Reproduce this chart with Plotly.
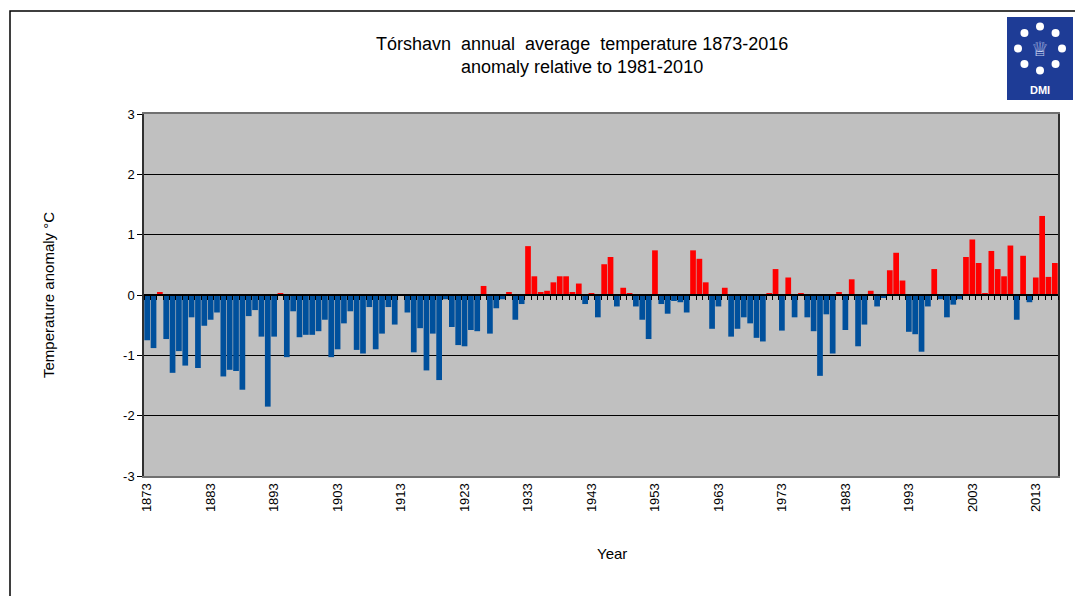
import math
import plotly.graph_objects as go

years = list(range(1873, 2017))
anomaly = [
    -0.75, -0.88, 0.05, -0.73, -1.29, -0.93, -1.17, -0.37, -1.21, -0.51,
    -0.41, -0.29, -1.35, -1.24, -1.26, -1.57, -0.35, -0.25, -0.69, -1.85,
    -0.69, 0.03, -1.03, -0.27, -0.70, -0.66, -0.66, -0.60, -0.41, -1.03,
    -0.90, -0.47, -0.27, -0.91, -0.97, -0.20, -0.90, -0.64, -0.20, -0.49,
    -0.01, -0.29, -0.95, -0.55, -1.25, -0.64, -1.41, -0.07, -0.53, -0.83,
    -0.85, -0.58, -0.60, 0.15, -0.64, -0.22, -0.07, 0.05, -0.41, -0.15,
    0.81, 0.31, 0.05, 0.07, 0.21, 0.31, 0.31, 0.05, 0.19, -0.15,
    0.03, -0.37, 0.51, 0.63, -0.19, 0.12, 0.03, -0.19, -0.41, -0.73,
    0.74, -0.15, -0.31, -0.10, -0.12, -0.29, 0.74, 0.60, 0.21, -0.56,
    -0.19, 0.12, -0.69, -0.56, -0.37, -0.47, -0.71, -0.77, 0.03, 0.43,
    -0.59, 0.29, -0.37, 0.03, -0.37, -0.60, -1.34, -0.32, -0.97, 0.05,
    -0.58, 0.26, -0.85, -0.49, 0.07, -0.19, -0.05, 0.41, 0.70, 0.24,
    -0.61, -0.65, -0.94, -0.19, 0.43, -0.07, -0.37, -0.16, -0.07, 0.63,
    0.92, 0.53, 0.03, 0.73, 0.43, 0.31, 0.82, -0.41, 0.65, -0.12,
    0.29, 1.31, 0.30, 0.53,
]
label_years = list(range(1873, 2017, 10))
y_ticks = [3, 2, 1, 0, -1, -2, -3]

title_lines = ["Tórshavn  annual  average  temperature 1873-2016",
               "anomaly relative to 1981-2010"]
y_title = "Temperature anomaly °C"
x_title = "Year"

POS = "#FF0000"
NEG = "#00509C"
FONT = "Liberation Sans, Arial, sans-serif"

W, H = 1075, 596
L, R, T, B = 144, 1058, 114, 476


def px(x):
    return (x - L) / (R - L)


def py(y):
    return (B - y) / (B - T)


colors = [POS if v > 0 else NEG for v in anomaly]

fig = go.Figure()
fig.add_trace(go.Bar(
    x=years, y=anomaly, marker=dict(color=colors, line=dict(width=0)),
    hovertemplate="%{x}: %{y:.2f} °C<extra></extra>", showlegend=False,
))
# invisible helper trace for the category axis crossing at zero
fig.add_trace(go.Scatter(
    x=[years[0]], y=[0], xaxis="x2", mode="markers",
    marker=dict(opacity=0), hoverinfo="skip", showlegend=False,
))

fig.update_layout(
    width=W, height=H,
    margin=dict(l=L, r=W - R, t=T, b=H - B, pad=0),
    paper_bgcolor="white", plot_bgcolor="#C0C0C0",
    bargap=0.1,
    font=dict(family=FONT, size=13, color="black"),
    xaxis=dict(
        range=[years[0] - 0.5, years[-1] + 0.5],
        tickvals=label_years, ticktext=[str(y) for y in label_years],
        tickangle=-90, ticks="", showgrid=False, zeroline=False,
        showline=True, linecolor="#707070", linewidth=2, mirror=True,
        tickfont=dict(size=13),
    ),
    xaxis2=dict(
        overlaying="x", anchor="free", position=0.5, side="bottom",
        matches="x", showgrid=False, zeroline=False,
        tick0=years[0] - 0.5, dtick=1, ticks="outside", ticklen=4,
        tickcolor="black", tickwidth=1, showticklabels=False,
        showline=True, linecolor="black", linewidth=2,
    ),
    yaxis=dict(
        range=[-3, 3], tickvals=y_ticks, ticktext=[str(v) for v in y_ticks],
        showgrid=True, gridcolor="black", gridwidth=1, zeroline=False,
        ticks="outside", ticklen=5, tickcolor="black",
        showline=True, linecolor="#303030", linewidth=1.5, mirror=True,
        tickfont=dict(size=13),
    ),
)


def note(x, y, text, size, color="black", family=FONT, angle=0):
    return dict(x=px(x), y=py(y), xref="paper", yref="paper", text=text,
                showarrow=False, xanchor="center", yanchor="middle",
                textangle=angle, font=dict(size=size, color=color, family=family))


ann = [
    note(582, 44, title_lines[0], 18),
    note(582, 67, title_lines[1], 18),
    note(48, 295, y_title, 15, angle=-90),
    note(612, 553, x_title, 15),
]

shapes = []
# outer frame
shapes.append(dict(type="rect", xref="paper", yref="paper",
                   x0=px(10), y0=py(11), x1=px(1080), y1=py(600),
                   line=dict(color="black", width=1.5), layer="above"))
# DMI logo
shapes.append(dict(type="rect", xref="paper", yref="paper",
                   x0=px(1007), y0=py(17), x1=px(1073), y1=py(100),
                   fillcolor="#1E3C96", line=dict(width=0), layer="above"))
cx, cy, rad, dr = 1040, 48.5, 22, 4
for k in range(8):
    a = math.pi / 2 - k * math.pi / 4
    dx = cx + rad * math.cos(a)
    dy = cy - rad * math.sin(a)
    shapes.append(dict(type="circle", xref="paper", yref="paper",
                       x0=px(dx - dr), x1=px(dx + dr),
                       y0=py(dy + dr), y1=py(dy - dr),
                       fillcolor="white", line=dict(width=0), layer="above"))
ann.append(note(cx, cy, "♕", 20, color="#C8D2F0", family="DejaVu Sans"))
ann.append(note(cx, 90, "<b>DMI</b>", 11, color="white"))

fig.update_layout(annotations=ann, shapes=shapes)
fig.write_html(
    "out.html",
    config={"displayModeBar": False},
    post_script="document.body.style.margin='0';"
                "document.body.style.overflow='hidden';",
)
